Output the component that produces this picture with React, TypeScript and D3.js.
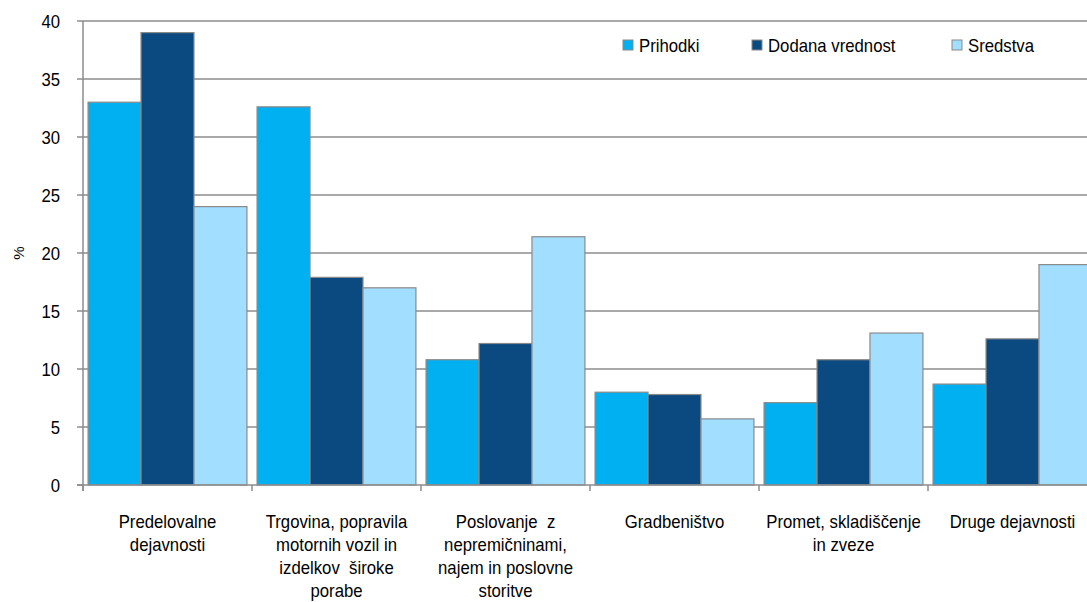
import React from "react";
import * as d3 from "d3";

const categories: string[][] = [
  ["Predelovalne", "dejavnosti"],
  ["Trgovina, popravila", "motornih vozil in", "izdelkov  široke", "porabe"],
  ["Poslovanje  z", "nepremičninami,", "najem in poslovne", "storitve"],
  ["Gradbeništvo"],
  ["Promet, skladiščenje", "in zveze"],
  ["Druge dejavnosti"],
];
const seriesNames = ["Prihodki", "Dodana vrednost", "Sredstva"];
const prihodki = [33.0, 32.6, 10.8, 8.0, 7.1, 8.7];
const dodana = [39.0, 17.9, 12.2, 7.8, 10.8, 12.6];
const sredstva = [24.0, 17.0, 21.4, 5.7, 13.1, 19.0];
const yTicks = [0, 5, 10, 15, 20, 25, 30, 35, 40];
const colors = ["#00B0F0", "#0B4A80", "#A1DEFF"];

const SX = 0.93;

function T({ x, y, anchor, children, size = 18 }: { x: number; y: number; anchor?: string; children: React.ReactNode; size?: number }) {
  return (
    <g transform={`translate(${x},${y}) scale(${SX},1)`}>
      <text x={0} y={0} textAnchor={anchor || "start"} fontSize={size} fill="#000" style={{ whiteSpace: "pre" }}>
        {children}
      </text>
    </g>
  );
}

export default function App() {
  const W = 1087, H = 602;
  const left = 83, right = 1097, top = 21, bottom = 485;
  const font = "'Liberation Sans', Arial, sans-serif";
  const series = [prihodki, dodana, sredstva];
  const x0 = d3.scaleBand<number>().domain(d3.range(categories.length)).range([left, right]).paddingInner(0.06).paddingOuter(0.03);
  const x1 = d3.scaleBand<number>().domain([0, 1, 2]).range([0, x0.bandwidth()]);
  const y = d3.scaleLinear().domain([0, 40]).range([bottom, top]);
  const step = (right - left) / categories.length;
  const legendX = [623, 752, 952];
  return (
    <svg width={W} height={H} style={{ position: "absolute", left: 0, top: 0, background: "#fff" }} fontFamily={font}>
      {yTicks.map((t) => (
        <g key={t}>
          {t > 0 && <line x1={left} x2={W} y1={y(t)} y2={y(t)} stroke="#8c8c8c" strokeWidth={1.5} />}
          <line x1={left - 6} x2={left} y1={y(t)} y2={y(t)} stroke="#8c8c8c" strokeWidth={1.5} />
          <T x={60} y={y(t) + 6.5} anchor="end">{t}</T>
        </g>
      ))}
      {categories.map((c, i) => (
        <g key={i}>
          {series.map((s, j) => (
            <rect key={j} x={(x0(i) as number) + (x1(j) as number)} y={y(s[i])} width={x1.bandwidth()} height={y(0) - y(s[i])} fill={colors[j]} stroke="#8a8a8a" strokeWidth={1.2} />
          ))}
        </g>
      ))}
      <line x1={left} x2={left} y1={top} y2={bottom + 6} stroke="#8c8c8c" strokeWidth={1.5} />
      <line x1={left - 6} x2={W} y1={bottom} y2={bottom} stroke="#8c8c8c" strokeWidth={1.5} />
      {d3.range(categories.length + 1).map((i) => (
        <line key={i} x1={left + i * step} x2={left + i * step} y1={bottom} y2={bottom + 6} stroke="#8c8c8c" strokeWidth={1.5} />
      ))}
      {categories.map((c, i) =>
        c.map((l, k) => (
          <T key={`${i}-${k}`} x={left + (i + 0.5) * step} y={528 + k * 23} anchor="middle">{l}</T>
        ))
      )}
      <text transform={`translate(24,${(top + bottom) / 2}) rotate(-90)`} textAnchor="middle" fontSize={15}>%</text>
      {seriesNames.map((n, j) => (
        <g key={n}>
          <rect x={legendX[j]} y={40} width={10} height={10} fill={colors[j]} stroke="#8a8a8a" strokeWidth={1} />
          <T x={legendX[j] + 16} y={52}>{n}</T>
        </g>
      ))}
    </svg>
  );
}
